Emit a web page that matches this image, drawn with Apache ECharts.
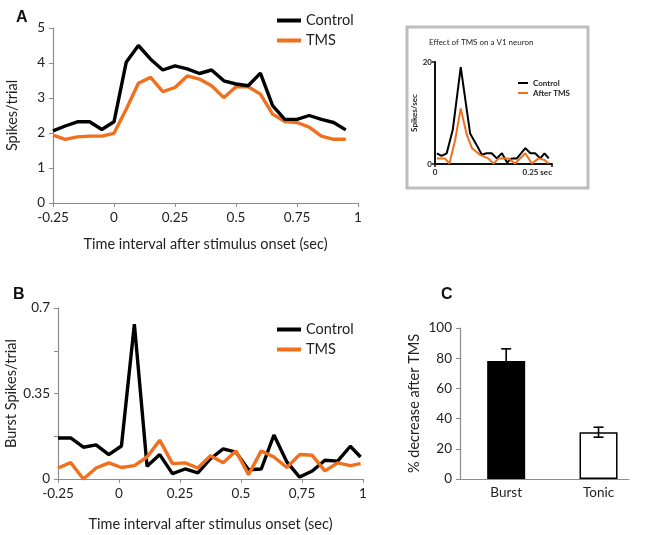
<!DOCTYPE html>
<html><head><meta charset="utf-8">
<script src="https://cdn.jsdelivr.net/npm/echarts@6/dist/echarts.min.js"></script>
<style>html,body{margin:0;padding:0;background:#fff}#c{width:650px;height:535px}</style>
</head><body><div id="c"></div>
<script>
// Panel A: spikes/trial
const timesA = [-0.25,-0.2,-0.15,-0.1,-0.05,0,0.05,0.1,0.15,0.2,0.25,0.3,0.35,0.4,0.45,0.5,0.55,0.6,0.65,0.7,0.75,0.8,0.85,0.9,0.95];
const controlA = [2.06,2.2,2.32,2.32,2.1,2.32,4.02,4.5,4.11,3.8,3.92,3.83,3.7,3.8,3.49,3.4,3.35,3.71,2.78,2.39,2.39,2.5,2.39,2.3,2.09];
const tmsA = [1.94,1.82,1.89,1.91,1.91,1.99,2.68,3.42,3.59,3.18,3.3,3.63,3.54,3.35,3.01,3.32,3.32,3.11,2.54,2.33,2.3,2.17,1.91,1.82,1.82];
// Panel B: burst spikes/trial
const timesB = [-0.25,-0.198,-0.146,-0.094,-0.042,0.01,0.063,0.115,0.167,0.219,0.271,0.323,0.375,0.427,0.479,0.531,0.583,0.635,0.688,0.74,0.792,0.844,0.896,0.948,0.99];
const controlB = [0.168,0.168,0.13,0.14,0.1,0.135,0.634,0.052,0.1,0.022,0.041,0.025,0.083,0.123,0.11,0.038,0.041,0.18,0.07,0.008,0.033,0.077,0.073,0.134,0.09];
const tmsB = [0.045,0.067,0,0.045,0.066,0.047,0.055,0.09,0.159,0.063,0.066,0.045,0.095,0.067,0.115,0.018,0.115,0.09,0.047,0.1,0.097,0.033,0.066,0.055,0.063];
// Inset: spikes/sec of one V1 neuron
const insetCtrlT = [0.004,0.014,0.025,0.038,0.055,0.075,0.091,0.1,0.11,0.121,0.132,0.143,0.154,0.164,0.175,0.193,0.204,0.214,0.225,0.234,0.243];
const insetCtrlV = [2.1,1.6,2.1,6.7,19,6,3.4,1.8,2.1,2.1,1.1,2.1,0.3,1.1,1.1,3.1,2.1,2.1,1.1,2.1,1.1];
const insetTmsT = [0.004,0.021,0.031,0.043,0.055,0.068,0.079,0.096,0.114,0.125,0.136,0.157,0.171,0.193,0.207,0.221,0.234,0.243];
const insetTmsV = [1.1,1.1,0.1,4.7,10.9,5.7,3.1,1.8,1.1,0.1,1.1,1.1,0.1,2.1,0.1,1.1,0.8,0.1];
// Panel C: % decrease after TMS
const barCategories = ['Burst','Tonic'];
const barValues = [78.2, 31];
const barErrors = [8, 3.3];

const FONT = 'Lato';
const gray = '#8c8c8c';
const orange = '#f0701e';
const pairs = (xs, ys) => xs.map((x, i) => [x, ys[i]]);

const chart = echarts.init(document.getElementById('c'), null, {renderer: 'canvas'});
const axisCommon = {
  axisLine: {show: true, onZero: false, lineStyle: {color: gray, width: 1.2}},
  axisTick: {show: true, lineStyle: {color: gray}, length: 4},
  splitLine: {show: false},
  axisLabel: {color: '#222', fontFamily: FONT, fontSize: 13.5},
  nameTextStyle: {color: '#222', fontFamily: FONT, fontSize: 14.5}
};
const option = {
  animation: false,
  textStyle: {fontFamily: FONT},
  title: [
    {text: 'A', left: 11, top: 5, textStyle: {fontFamily: 'Liberation Sans', fontWeight: 'bold', fontSize: 16, color: '#111'}},
    {text: 'B', left: 8, top: 282, textStyle: {fontFamily: 'Liberation Sans', fontWeight: 'bold', fontSize: 16, color: '#111'}},
    {text: 'C', left: 436, top: 282, textStyle: {fontFamily: 'Liberation Sans', fontWeight: 'bold', fontSize: 16, color: '#111'}},
    {text: 'Effect of TMS on a V1 neuron', left: 424, top: 33, textStyle: {fontFamily: FONT, fontWeight: 'normal', fontSize: 8, color: '#222'}}
  ],
  graphic: [
    {type: 'rect', shape: {x: 407, y: 27, width: 181, height: 161}, style: {fill: 'none', stroke: '#bdbdbd', lineWidth: 3}, z: -1}
  ],
  legend: [
    {data: ['Control', 'TMS'], orient: 'vertical', left: 272, top: 8, itemWidth: 24, itemHeight: 4, itemGap: 5, icon: 'rect',
     textStyle: {fontFamily: FONT, fontSize: 14.5, color: '#222'}},
    {data: ['Control', 'TMS'], orient: 'vertical', left: 272, top: 317, itemWidth: 24, itemHeight: 4, itemGap: 5, icon: 'rect',
     textStyle: {fontFamily: FONT, fontSize: 14.5, color: '#222'}},
    {data: ['Control', 'After TMS'], orient: 'vertical', left: 513, top: 74, itemWidth: 10, itemHeight: 2, itemGap: 2, icon: 'rect',
     textStyle: {fontFamily: FONT, fontSize: 8, fontWeight: 'bold', color: '#222'}}
  ],
  grid: [
    {left: 53, top: 28, width: 305, height: 175},
    {left: 58, top: 308, width: 305, height: 171},
    {left: 435, top: 62, width: 117, height: 102},
    {left: 460, top: 328, width: 169, height: 151}
  ],
  xAxis: [
    Object.assign({}, axisCommon, {type: 'value', gridIndex: 0, min: -0.25, max: 1, interval: 0.25,
      name: 'Time interval after stimulus onset (sec)', nameLocation: 'middle', nameGap: 34}),
    Object.assign({}, axisCommon, {type: 'value', gridIndex: 1, min: -0.25, max: 1, interval: 0.25,
      axisLabel: Object.assign({}, axisCommon.axisLabel, {formatter: v => v === 0.75 ? '0,75' : String(v)}),
      name: 'Time interval after stimulus onset (sec)', nameLocation: 'middle', nameGap: 38}),
    {type: 'value', gridIndex: 2, min: 0, max: 0.25, interval: 0.25, splitLine: {show: false},
      axisLine: {onZero: false, lineStyle: {color: '#111', width: 2}}, axisTick: {lineStyle: {color: '#111', width: 1.5}, length: 3},
      axisLabel: {color: '#222', fontFamily: FONT, fontSize: 8, fontWeight: 'bold', margin: 4, alignMaxLabel: 'right',
        formatter: v => v === 0 ? '0' : '0.25 sec'}},
    Object.assign({}, axisCommon, {type: 'value', gridIndex: 3, min: 0.5, max: 2.33, interval: 0.5,
      axisTick: {show: false},
      axisLabel: Object.assign({}, axisCommon.axisLabel, {margin: 7, showMaxLabel: false,
        formatter: v => Math.abs(v - 1) < 1e-6 ? barCategories[0] : (Math.abs(v - 2) < 1e-6 ? barCategories[1] : '')})})
  ],
  yAxis: [
    Object.assign({}, axisCommon, {type: 'value', gridIndex: 0, min: 0, max: 5, interval: 1,
      name: 'Spikes/trial', nameLocation: 'middle', nameGap: 33}),
    Object.assign({}, axisCommon, {type: 'value', gridIndex: 1, min: 0, max: 0.7, interval: 0.175,
      axisLabel: Object.assign({}, axisCommon.axisLabel, {formatter: v => (Math.abs(v) < 1e-6 ? '0' : Math.abs(v - 0.35) < 1e-6 ? '0.35' : Math.abs(v - 0.7) < 1e-6 ? '0.7' : '')}),
      name: 'Burst Spikes/trial', nameLocation: 'middle', nameGap: 39}),
    {type: 'value', gridIndex: 2, min: 0, max: 20, interval: 20, splitLine: {show: false},
      axisLine: {show: true, onZero: false, lineStyle: {color: '#111', width: 2}}, axisTick: {show: true, lineStyle: {color: '#111', width: 1.5}, length: 3},
      axisLabel: {color: '#222', fontFamily: FONT, fontSize: 8, fontWeight: 'bold', margin: 3},
      name: 'Spikes/sec', nameLocation: 'middle', nameGap: 11,
      nameTextStyle: {color: '#222', fontFamily: FONT, fontSize: 8, fontWeight: 'bold'}},
    Object.assign({}, axisCommon, {type: 'value', gridIndex: 3, min: 0, max: 100, interval: 20,
      name: '% decrease after TMS', nameLocation: 'middle', nameGap: 38})
  ],
  series: [
    {name: 'Control', type: 'line', xAxisIndex: 0, yAxisIndex: 0, data: pairs(timesA, controlA), symbol: 'none',
      lineStyle: {color: '#000', width: 3.4}, itemStyle: {color: '#000'}, z: 3},
    {name: 'TMS', type: 'line', xAxisIndex: 0, yAxisIndex: 0, data: pairs(timesA, tmsA), symbol: 'none',
      lineStyle: {color: orange, width: 3.4}, itemStyle: {color: orange}, z: 2},
    {name: 'Control', type: 'line', xAxisIndex: 1, yAxisIndex: 1, data: pairs(timesB, controlB), symbol: 'none',
      lineStyle: {color: '#000', width: 3.4}, itemStyle: {color: '#000'}, z: 2},
    {name: 'TMS', type: 'line', xAxisIndex: 1, yAxisIndex: 1, data: pairs(timesB, tmsB), symbol: 'none',
      lineStyle: {color: orange, width: 3.4}, itemStyle: {color: orange}, z: 3},
    {name: 'Control', type: 'line', xAxisIndex: 2, yAxisIndex: 2, data: pairs(insetCtrlT, insetCtrlV), symbol: 'none',
      lineStyle: {color: '#000', width: 2}, itemStyle: {color: '#000'}, z: 2},
    {name: 'After TMS', type: 'line', xAxisIndex: 2, yAxisIndex: 2, data: pairs(insetTmsT, insetTmsV), symbol: 'none',
      lineStyle: {color: orange, width: 2}, itemStyle: {color: orange}, z: 3},
    {name: 'pct', type: 'bar', xAxisIndex: 3, yAxisIndex: 3, barWidth: 38,
      data: barValues.map((v, i) => ({value: [i + 1, v], itemStyle: i === 0 ? {color: '#000'} : {color: '#fff', borderColor: '#000', borderWidth: 1.5}})), z: 2},
    {name: 'err', type: 'custom', xAxisIndex: 3, yAxisIndex: 3, z: 5,
      data: barValues.map((v, i) => [i + 1, v - barErrors[i], v + barErrors[i]]),
      encode: {x: 0, y: [1, 2]},
      renderItem: (params, api) => {
        const x = api.value(0);
        const lo = api.coord([x, api.value(1)]);
        const hi = api.coord([x, api.value(2)]);
        const w = 5;
        const st = {stroke: '#000', lineWidth: 1.6};
        return {type: 'group', children: [
          {type: 'line', shape: {x1: lo[0], y1: lo[1], x2: hi[0], y2: hi[1]}, style: st},
          {type: 'line', shape: {x1: hi[0] - w, y1: hi[1], x2: hi[0] + w, y2: hi[1]}, style: st},
          {type: 'line', shape: {x1: lo[0] - w, y1: lo[1], x2: lo[0] + w, y2: lo[1]}, style: st}
        ]};
      }}
  ]
};
chart.setOption(option);
</script>
</body></html>
